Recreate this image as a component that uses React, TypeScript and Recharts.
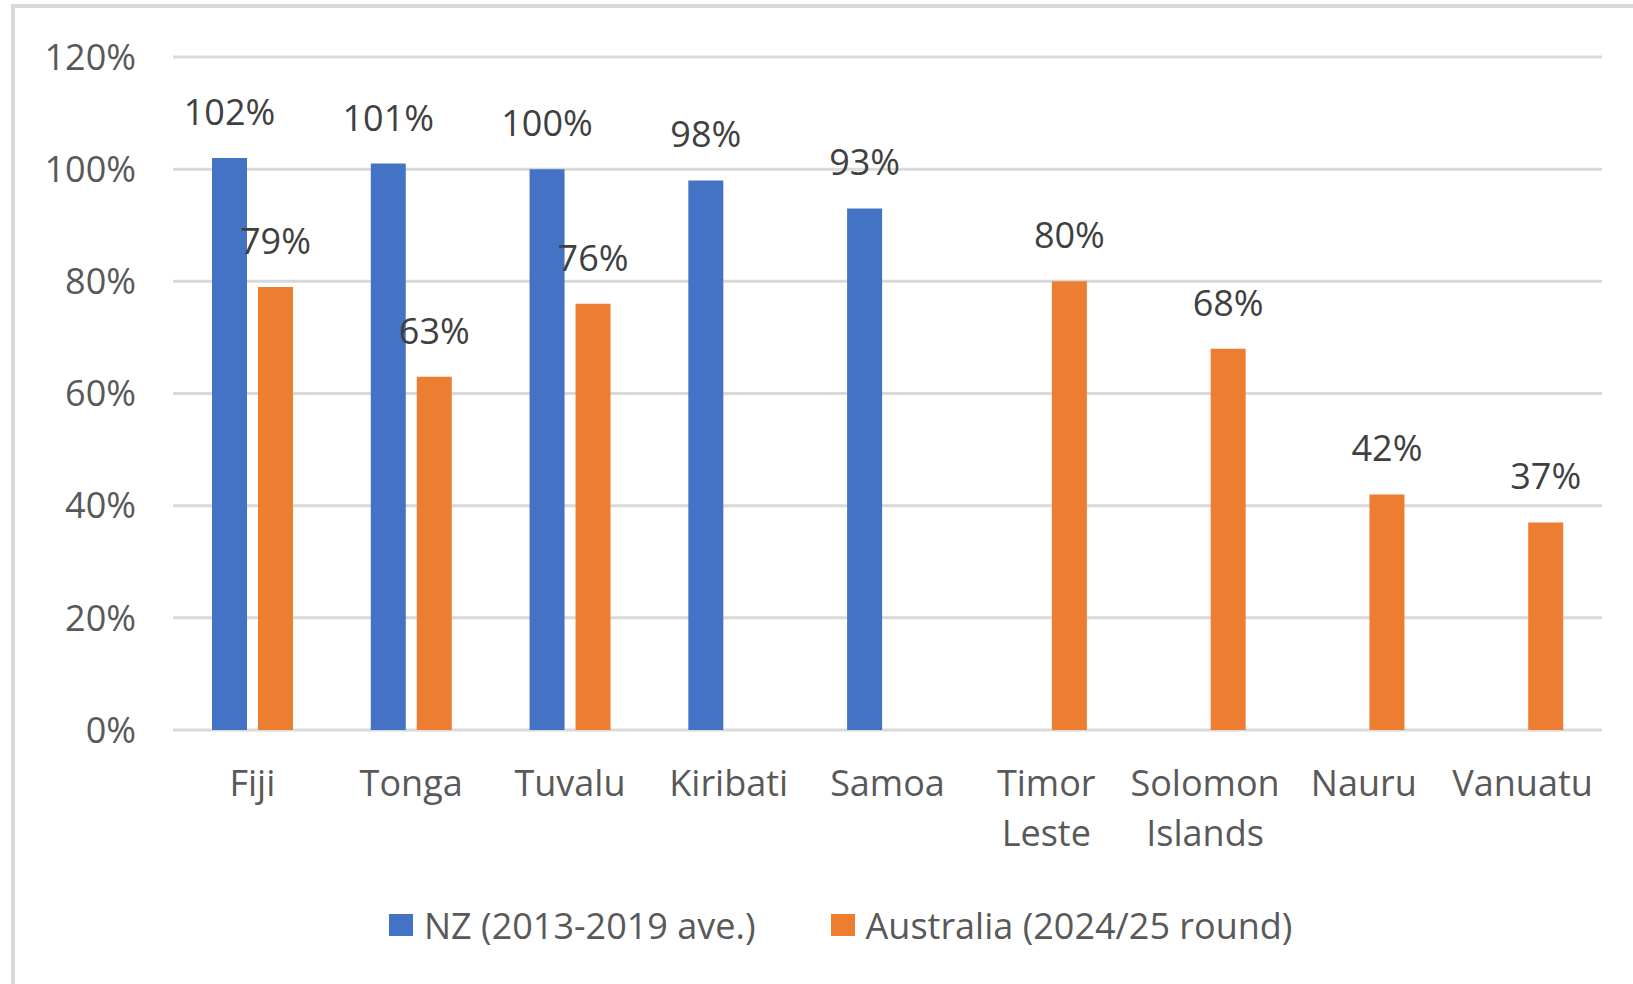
import React from 'react';
import { BarChart, Bar, XAxis, YAxis, CartesianGrid, Legend, LabelList } from 'recharts';

const categories = ['Fiji', 'Tonga', 'Tuvalu', 'Kiribati', 'Samoa', 'Timor Leste', 'Solomon Islands', 'Nauru', 'Vanuatu'];
const nzValues: (number | null)[] = [102, 101, 100, 98, 93, null, null, null, null];
const auValues: (number | null)[] = [79, 63, 76, null, null, 80, 68, 42, 37];
const yTicks = [0, 20, 40, 60, 80, 100, 120];
const seriesNames = ['NZ (2013-2019 ave.)', 'Australia (2024/25 round)'];
const seriesColors = ['#4472C4', '#ED7D31'];

const data = categories.map((c, i) => ({ name: c, nz: nzValues[i], au: auValues[i] }));

const FONT = '"Open Sans", "Liberation Sans", sans-serif';
const FS = 36;

const CategoryTick = (props: any) => {
  const { x, y, payload } = props;
  const lines = String(payload.value).split(' ');
  return (
    <text x={x} y={y} textAnchor="middle" fill="#595959" fontSize={FS} fontFamily={FONT}>
      {lines.map((l, i) => (
        <tspan key={i} x={x} y={y + 66 + i * 50}>
          {l}
        </tspan>
      ))}
    </text>
  );
};

const BarLabel = (props: any) => {
  const { x, y, width, value } = props;
  if (value == null || x == null) return null;
  return (
    <text x={Number(x) + Number(width) / 2} y={Number(y) - 33} textAnchor="middle" fill="#404040" fontSize={FS} fontFamily={FONT}>
      {value}%
    </text>
  );
};

const LegendContent = () => (
  <div style={{ display: 'flex', alignItems: 'center', height: 60, paddingLeft: 389, fontFamily: FONT, fontSize: FS, color: '#595959', whiteSpace: 'nowrap' }}>
    {seriesNames.map((n, i) => (
      <div key={n} style={{ display: 'flex', alignItems: 'center', marginRight: 75 }}>
        <div style={{ width: 24, height: 22, background: seriesColors[i], marginRight: 11 }} />
        <span>{n}</span>
      </div>
    ))}
  </div>
);

export default function App() {
  return (
    <div style={{ position: 'absolute', left: 0, top: 0, width: 1633, height: 984, overflow: 'hidden', background: '#fff' }}>
      <div style={{ position: 'absolute', left: 11, top: 4, width: 2000, height: 2000, borderLeft: '4px solid #d9d9d9', borderTop: '4px solid #d9d9d9' }} />
      <div style={{ position: 'absolute', left: 0, top: 0 }}>
        <BarChart width={1633} height={984} data={data} margin={{ top: 57, right: 31, bottom: 29, left: 0 }} barSize={35} barGap={11}>
          <CartesianGrid vertical={false} stroke="#d9d9d9" strokeWidth={3} />
          <XAxis dataKey="name" height={165} axisLine={false} tickLine={false} tickSize={0} tickMargin={0} tick={<CategoryTick />} interval={0} />
          <YAxis
            width={173}
            domain={[0, 120]}
            ticks={yTicks}
            axisLine={false}
            tickLine={false}
            tickSize={0}
            tickMargin={37}
            tickFormatter={(v: number) => `${v}%`}
            tick={{ fill: '#595959', fontSize: FS, fontFamily: FONT }}
          />
          <Legend verticalAlign="bottom" wrapperStyle={{ height: 60 }} content={<LegendContent />} />
          <Bar dataKey="nz" name={seriesNames[0]} fill={seriesColors[0]} isAnimationActive={false}>
            <LabelList dataKey="nz" content={<BarLabel />} />
          </Bar>
          <Bar dataKey="au" name={seriesNames[1]} fill={seriesColors[1]} isAnimationActive={false}>
            <LabelList dataKey="au" content={<BarLabel />} />
          </Bar>
        </BarChart>
      </div>
    </div>
  );
}
